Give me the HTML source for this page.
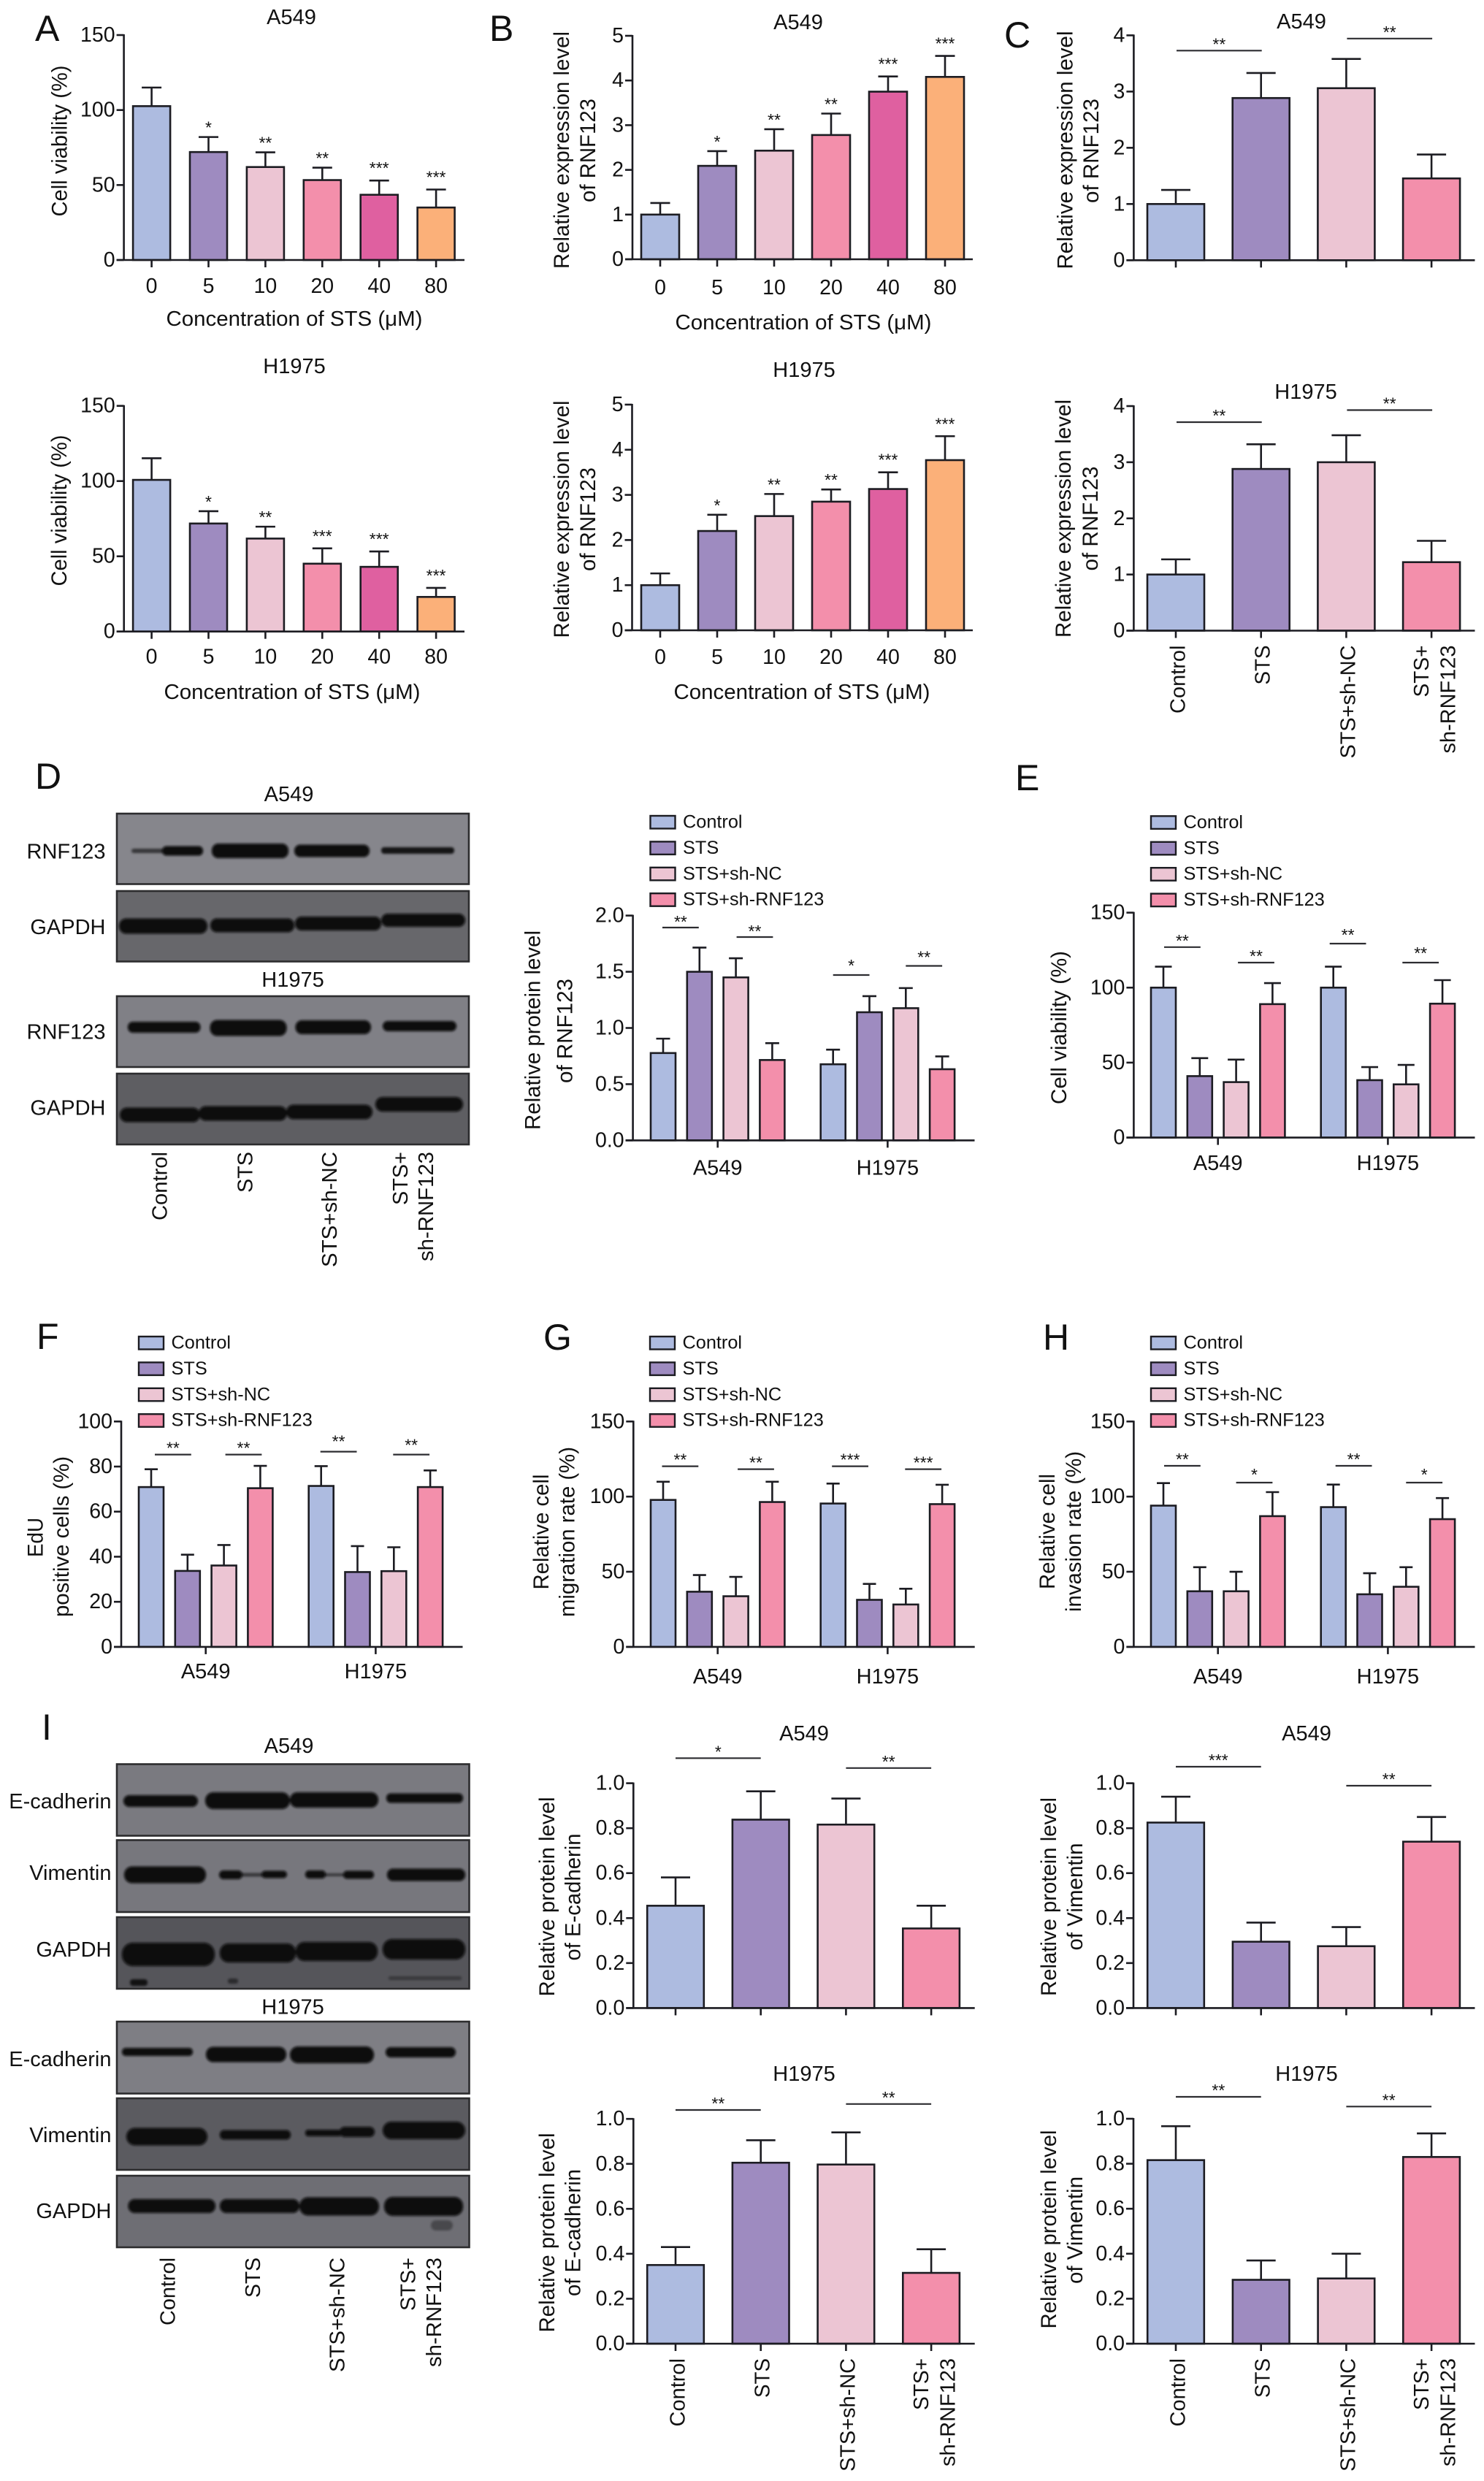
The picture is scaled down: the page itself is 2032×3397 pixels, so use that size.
<!DOCTYPE html>
<html lang="en">
<head>
<meta charset="utf-8">
<title>STS RNF123 multi-panel figure</title>
<style>
html,body{margin:0;padding:0;background:#fff;}
svg{display:block;}
text{font-family:"Liberation Sans",sans-serif;fill:#111;}
.letter{font-size:50px;}
.title{font-size:29px;text-anchor:middle;}
.yl{font-size:30px;text-anchor:middle;}
.xt{font-size:29px;text-anchor:middle;}
.bl{font-size:29px;text-anchor:end;}
.cl{font-size:29px;text-anchor:end;}
.frame{stroke:#2c2c2e;stroke-width:2.6;}
.band{fill:#070707;}
</style>
</head>
<body>
<svg id="figure" xmlns="http://www.w3.org/2000/svg" width="2032" height="3397" viewBox="0 0 2032 3397">
<defs>
<filter id="blotBlur" x="-10%" y="-60%" width="120%" height="220%"><feGaussianBlur stdDeviation="1.7"/></filter>
</defs>
<rect x="0" y="0" width="2032" height="3397" fill="#fff"/>

<!-- panel letters -->
<text class="letter" x="48" y="56">A</text>
<text class="letter" x="670" y="56">B</text>
<text class="letter" x="1375" y="65">C</text>
<text class="letter" x="48" y="1080">D</text>
<text class="letter" x="1390" y="1082">E</text>
<text class="letter" x="50" y="1847">F</text>
<text class="letter" x="744" y="1848">G</text>
<text class="letter" x="1428" y="1848">H</text>
<text class="letter" x="57" y="2382">I</text>

<!-- chart titles -->
<text class="title" x="399" y="33">A549</text>
<text class="title" x="403" y="511">H1975</text>
<text class="title" x="1093" y="40">A549</text>
<text class="title" x="1101" y="516">H1975</text>
<text class="title" x="1782" y="39">A549</text>
<text class="title" x="1788" y="546">H1975</text>
<text class="title" x="1101" y="2383">A549</text>
<text class="title" x="1101" y="2849">H1975</text>
<text class="title" x="1789" y="2383">A549</text>
<text class="title" x="1789" y="2849">H1975</text>

<!-- x axis titles -->
<text class="xt" x="403" y="446" textLength="351" lengthAdjust="spacingAndGlyphs">Concentration of STS (μM)</text>
<text class="xt" x="400" y="957" textLength="351" lengthAdjust="spacingAndGlyphs">Concentration of STS (μM)</text>
<text class="xt" x="1100" y="451" textLength="351" lengthAdjust="spacingAndGlyphs">Concentration of STS (μM)</text>
<text class="xt" x="1098" y="957" textLength="351" lengthAdjust="spacingAndGlyphs">Concentration of STS (μM)</text>

<!-- y axis titles -->
<text class="yl" transform="translate(91.5,193) rotate(-90)" textLength="207" lengthAdjust="spacingAndGlyphs">Cell viability (%)</text>
<text class="yl" transform="translate(91,699) rotate(-90)" textLength="207" lengthAdjust="spacingAndGlyphs">Cell viability (%)</text>
<text class="yl" transform="translate(779,205.5) rotate(-90)" textLength="325" lengthAdjust="spacingAndGlyphs">Relative expression level</text>
<text class="yl" transform="translate(815,206) rotate(-90)" textLength="142" lengthAdjust="spacingAndGlyphs">of RNF123</text>
<text class="yl" transform="translate(779,711) rotate(-90)" textLength="325" lengthAdjust="spacingAndGlyphs">Relative expression level</text>
<text class="yl" transform="translate(815,711) rotate(-90)" textLength="142" lengthAdjust="spacingAndGlyphs">of RNF123</text>
<text class="yl" transform="translate(1468.5,205.5) rotate(-90)" textLength="326" lengthAdjust="spacingAndGlyphs">Relative expression level</text>
<text class="yl" transform="translate(1504,206.5) rotate(-90)" textLength="143" lengthAdjust="spacingAndGlyphs">of RNF123</text>
<text class="yl" transform="translate(1466,710) rotate(-90)" textLength="326" lengthAdjust="spacingAndGlyphs">Relative expression level</text>
<text class="yl" transform="translate(1503,710) rotate(-90)" textLength="143" lengthAdjust="spacingAndGlyphs">of RNF123</text>
<text class="yl" transform="translate(739.5,1410.5) rotate(-90)" textLength="273" lengthAdjust="spacingAndGlyphs">Relative protein level</text>
<text class="yl" transform="translate(783.5,1411.5) rotate(-90)" textLength="143" lengthAdjust="spacingAndGlyphs">of RNF123</text>
<text class="yl" transform="translate(1460,1407) rotate(-90)" textLength="210" lengthAdjust="spacingAndGlyphs">Cell viability (%)</text>
<text class="yl" transform="translate(58.5,2105) rotate(-90)" textLength="54" lengthAdjust="spacingAndGlyphs">EdU</text>
<text class="yl" transform="translate(94,2104) rotate(-90)" textLength="220" lengthAdjust="spacingAndGlyphs">positive cells (%)</text>
<text class="yl" transform="translate(751,2097.5) rotate(-90)" textLength="158" lengthAdjust="spacingAndGlyphs">Relative cell</text>
<text class="yl" transform="translate(786.5,2097.5) rotate(-90)" textLength="233" lengthAdjust="spacingAndGlyphs">migration rate (%)</text>
<text class="yl" transform="translate(1444,2097) rotate(-90)" textLength="158" lengthAdjust="spacingAndGlyphs">Relative cell</text>
<text class="yl" transform="translate(1480,2097) rotate(-90)" textLength="220" lengthAdjust="spacingAndGlyphs">invasion rate (%)</text>
<text class="yl" transform="translate(759,2597) rotate(-90)" textLength="273" lengthAdjust="spacingAndGlyphs">Relative protein level</text>
<text class="yl" transform="translate(794.5,2597.5) rotate(-90)" textLength="174" lengthAdjust="spacingAndGlyphs">of E-cadherin</text>
<text class="yl" transform="translate(759,3057) rotate(-90)" textLength="273" lengthAdjust="spacingAndGlyphs">Relative protein level</text>
<text class="yl" transform="translate(794.5,3057) rotate(-90)" textLength="174" lengthAdjust="spacingAndGlyphs">of E-cadherin</text>
<text class="yl" transform="translate(1446,2597) rotate(-90)" textLength="272" lengthAdjust="spacingAndGlyphs">Relative protein level</text>
<text class="yl" transform="translate(1482,2597) rotate(-90)" textLength="147" lengthAdjust="spacingAndGlyphs">of Vimentin</text>
<text class="yl" transform="translate(1446,3052.5) rotate(-90)" textLength="272" lengthAdjust="spacingAndGlyphs">Relative protein level</text>
<text class="yl" transform="translate(1482,3053.5) rotate(-90)" textLength="147" lengthAdjust="spacingAndGlyphs">of Vimentin</text>

<!-- Western blots panel D -->
<g>
<text class="title" x="395.5" y="1097">A549</text>
<text class="title" x="401" y="1351">H1975</text>
<text class="bl" x="144.5" y="1175.5">RNF123</text>
<text class="bl" x="144.5" y="1279">GAPDH</text>
<text class="bl" x="144.5" y="1422.5">RNF123</text>
<text class="bl" x="144.5" y="1526.5">GAPDH</text>

<rect class="frame" x="160" y="1114" width="482" height="96.5" fill="#86868c"/>
<g filter="url(#blotBlur)">
<rect class="band" x="180" y="1162" width="50" height="6" rx="3" opacity=".6"/>
<rect class="band" x="222" y="1158.5" width="56" height="13" rx="6"/>
<rect class="band" x="290" y="1155" width="105" height="20" rx="9"/>
<rect class="band" x="403" y="1156.5" width="103" height="17" rx="8"/>
<rect class="band" x="522" y="1160" width="100" height="9" rx="4" opacity=".85"/>
</g>

<rect class="frame" x="160" y="1220" width="482" height="96.5" fill="#67676b"/>
<g filter="url(#blotBlur)">
<rect class="band" x="163" y="1257.5" width="121" height="21" rx="10"/>
<rect class="band" x="288" y="1257.5" width="115" height="19" rx="9"/>
<rect class="band" x="404" y="1255" width="118" height="19" rx="9"/>
<rect class="band" x="522" y="1251" width="115" height="18" rx="9"/>
</g>

<rect class="frame" x="160" y="1364" width="482" height="97" fill="#808086"/>
<g filter="url(#blotBlur)">
<rect class="band" x="175" y="1399" width="99.5" height="15" rx="7"/>
<rect class="band" x="287.5" y="1396.5" width="105" height="22" rx="10"/>
<rect class="band" x="404.5" y="1397" width="103.5" height="19" rx="9"/>
<rect class="band" x="524" y="1398" width="101" height="14" rx="7"/>
</g>

<rect class="frame" x="160" y="1470" width="482" height="97" fill="#5e5e62"/>
<g filter="url(#blotBlur)">
<rect class="band" x="164" y="1516.5" width="110" height="20" rx="10"/>
<rect class="band" x="272" y="1514.5" width="121" height="20" rx="10"/>
<rect class="band" x="392" y="1512.5" width="118" height="20" rx="10"/>
<rect class="band" x="514" y="1502" width="120" height="20" rx="10"/>
</g>

<text class="cl" transform="translate(228.5,1577) rotate(-90)" textLength="94" lengthAdjust="spacingAndGlyphs">Control</text>
<text class="cl" transform="translate(345.5,1577) rotate(-90)" textLength="56" lengthAdjust="spacingAndGlyphs">STS</text>
<text class="cl" transform="translate(461,1577) rotate(-90)" textLength="158" lengthAdjust="spacingAndGlyphs">STS+sh-NC</text>
<text class="cl" transform="translate(558,1577) rotate(-90)" textLength="73" lengthAdjust="spacingAndGlyphs">STS+</text>
<text class="cl" transform="translate(593,1577) rotate(-90)" textLength="150" lengthAdjust="spacingAndGlyphs">sh-RNF123</text>
</g>

<!-- Western blots panel I -->
<g>
<text class="title" x="395.5" y="2400">A549</text>
<text class="title" x="401" y="2757.5">H1975</text>
<text class="bl" x="152.5" y="2476">E-cadherin</text>
<text class="bl" x="152.5" y="2574">Vimentin</text>
<text class="bl" x="152.5" y="2679">GAPDH</text>
<text class="bl" x="152.5" y="2829">E-cadherin</text>
<text class="bl" x="152.5" y="2933">Vimentin</text>
<text class="bl" x="152.5" y="3037">GAPDH</text>

<rect class="frame" x="160" y="2415.5" width="482.5" height="98" fill="#7a7a80"/>
<g filter="url(#blotBlur)">
<rect class="band" x="169" y="2458" width="102" height="16" rx="8"/>
<rect class="band" x="281" y="2454" width="116" height="23" rx="11"/>
<rect class="band" x="397" y="2454" width="121" height="21" rx="10"/>
<rect class="band" x="529" y="2455.5" width="105" height="13" rx="6"/>
</g>

<rect class="frame" x="160" y="2519.5" width="482.5" height="98.5" fill="#77777d"/>
<g filter="url(#blotBlur)">
<rect class="band" x="170" y="2555.5" width="112" height="23" rx="11"/>
<rect class="band" x="300" y="2561" width="32" height="12" rx="6"/>
<rect class="band" x="328" y="2564.5" width="36" height="5" rx="2" opacity=".55"/>
<rect class="band" x="358" y="2561.5" width="35" height="10" rx="5"/>
<rect class="band" x="418" y="2561" width="28" height="11" rx="5"/>
<rect class="band" x="444" y="2565" width="28" height="4" rx="2" opacity=".55"/>
<rect class="band" x="470" y="2561.5" width="42" height="11" rx="5"/>
<rect class="band" x="530" y="2558.5" width="107" height="17" rx="8"/>
</g>

<rect class="frame" x="160" y="2625" width="482.5" height="98" fill="#55555a"/>
<g filter="url(#blotBlur)">
<rect class="band" x="167" y="2660" width="127" height="32" rx="15"/>
<rect class="band" x="301" y="2661" width="104" height="26" rx="12"/>
<rect class="band" x="405" y="2659" width="112" height="26" rx="12"/>
<rect class="band" x="524" y="2655" width="113" height="28" rx="13"/>
<rect class="band" x="178" y="2710" width="24" height="9" rx="4" opacity=".8"/>
<rect class="band" x="312" y="2709" width="14" height="7" rx="3" opacity=".5"/>
<rect class="band" x="532" y="2706" width="100" height="5" rx="2" opacity=".35"/>
</g>

<rect class="frame" x="160" y="2768" width="482.5" height="98.5" fill="#7e7e84"/>
<g filter="url(#blotBlur)">
<rect class="band" x="167" y="2804" width="97" height="11" rx="5"/>
<rect class="band" x="282" y="2802.5" width="110" height="21" rx="10"/>
<rect class="band" x="397" y="2802" width="115" height="23" rx="11"/>
<rect class="band" x="528" y="2803" width="96" height="14" rx="7"/>
</g>

<rect class="frame" x="160" y="2873" width="482.5" height="98" fill="#5b5b60"/>
<g filter="url(#blotBlur)">
<rect class="band" x="173" y="2913.5" width="111" height="24" rx="12"/>
<rect class="band" x="301" y="2916.5" width="97" height="13" rx="6"/>
<rect class="band" x="418" y="2916" width="50" height="9" rx="4"/>
<rect class="band" x="465" y="2912" width="48" height="14" rx="7"/>
<rect class="band" x="524" y="2905" width="113" height="24" rx="12"/>
</g>

<rect class="frame" x="160" y="2979" width="482.5" height="98" fill="#6e6e74"/>
<g filter="url(#blotBlur)">
<rect class="band" x="175.5" y="3011" width="119.5" height="19" rx="9"/>
<rect class="band" x="301" y="3011" width="109" height="19" rx="9"/>
<rect class="band" x="410" y="3008.5" width="109" height="25" rx="12"/>
<rect class="band" x="526" y="3008" width="108" height="26" rx="12"/>
<rect class="band" x="590" y="3040" width="30" height="14" rx="7" opacity=".35"/>
</g>

<text class="cl" transform="translate(239.5,3091) rotate(-90)" textLength="93" lengthAdjust="spacingAndGlyphs">Control</text>
<text class="cl" transform="translate(356,3091) rotate(-90)" textLength="55" lengthAdjust="spacingAndGlyphs">STS</text>
<text class="cl" transform="translate(471.5,3091) rotate(-90)" textLength="157" lengthAdjust="spacingAndGlyphs">STS+sh-NC</text>
<text class="cl" transform="translate(568.5,3091) rotate(-90)" textLength="73" lengthAdjust="spacingAndGlyphs">STS+</text>
<text class="cl" transform="translate(604,3091) rotate(-90)" textLength="150" lengthAdjust="spacingAndGlyphs">sh-RNF123</text>
</g>

<g id="chart-layer"></g>
</svg>

<script>
// ---------- category and tick labels ----------
const concentrationLabels = ['0', '5', '10', '20', '40', '80'];
const treatmentLabels = ['Control', 'STS', 'STS+sh-NC', 'STS+sh-RNF123'];
const cellLineLabels = ['A549', 'H1975'];
const viabilityTicks = ['0', '50', '100', '150'];
const expressionTicksTo5 = ['0', '1', '2', '3', '4', '5'];
const expressionTicksTo4 = ['0', '1', '2', '3', '4'];
const rnfProteinTicks = ['0.0', '0.5', '1.0', '1.5', '2.0'];
const eduTicks = ['0', '20', '40', '60', '80', '100'];
const proteinTicks = ['0.0', '0.2', '0.4', '0.6', '0.8', '1.0'];

// ---------- panel A ----------
const viabilityA549Means = [102.6, 72, 62, 53.3, 43.5, 35];
const viabilityA549Errors = [12.4, 10, 9.8, 8.3, 9.5, 12];
const viabilityA549Stars = ['', '*', '**', '**', '***', '***'];
const viabilityH1975Means = [100.8, 71.8, 61.8, 45.1, 43, 23];
const viabilityH1975Errors = [14.4, 8.2, 7.9, 10.2, 10.2, 6];
const viabilityH1975Stars = ['', '*', '**', '***', '***', '***'];

// ---------- panel B ----------
const expressionA549Means = [1, 2.09, 2.43, 2.78, 3.75, 4.08];
const expressionA549Errors = [0.26, 0.33, 0.48, 0.48, 0.34, 0.47];
const expressionA549Stars = ['', '*', '**', '**', '***', '***'];
const expressionH1975Means = [1, 2.2, 2.53, 2.85, 3.13, 3.77];
const expressionH1975Errors = [0.26, 0.36, 0.49, 0.27, 0.37, 0.53];
const expressionH1975Stars = ['', '*', '**', '**', '***', '***'];

// ---------- panel C ----------
const knockdownA549Means = [1, 2.885, 3.06, 1.455];
const knockdownA549Errors = [0.25, 0.445, 0.52, 0.425];
const knockdownH1975Means = [1, 2.88, 3, 1.22];
const knockdownH1975Errors = [0.27, 0.44, 0.48, 0.38];

// ---------- panel D ----------
const rnfProteinA549Means = [0.777, 1.5, 1.45, 0.715];
const rnfProteinA549Errors = [0.128, 0.215, 0.17, 0.15];
const rnfProteinH1975Means = [0.677, 1.14, 1.176, 0.633];
const rnfProteinH1975Errors = [0.13, 0.143, 0.179, 0.114];

// ---------- panel E ----------
const rescueViabilityA549Means = [100, 41, 37, 89];
const rescueViabilityA549Errors = [14, 12, 15, 14];
const rescueViabilityH1975Means = [100, 38.3, 35.5, 89.3];
const rescueViabilityH1975Errors = [14, 8.7, 13, 15.7];

// ---------- panel F ----------
const eduA549Means = [70.9, 33.7, 36.1, 70.4];
const eduA549Errors = [7.9, 7.2, 9.1, 9.9];
const eduH1975Means = [71.4, 33.2, 33.6, 70.9];
const eduH1975Errors = [8.8, 11.5, 10.6, 7.4];

// ---------- panel G ----------
const migrationA549Means = [97.8, 36.7, 33.7, 96.4];
const migrationA549Errors = [12.1, 11.1, 12.9, 13.5];
const migrationH1975Means = [95.4, 31.3, 28.2, 95];
const migrationH1975Errors = [13.3, 10.6, 10.5, 12.9];

// ---------- panel H ----------
const invasionA549Means = [94, 37, 37, 87];
const invasionA549Errors = [15, 16, 13, 16];
const invasionH1975Means = [93, 35, 40, 85];
const invasionH1975Errors = [15, 14, 13, 14];

// ---------- panel I ----------
const ecadA549Means = [0.455, 0.838, 0.816, 0.354];
const ecadA549Errors = [0.126, 0.126, 0.116, 0.101];
const ecadH1975Means = [0.35, 0.805, 0.797, 0.315];
const ecadH1975Errors = [0.08, 0.1, 0.143, 0.105];
const vimA549Means = [0.825, 0.295, 0.275, 0.74];
const vimA549Errors = [0.115, 0.085, 0.085, 0.11];
const vimH1975Means = [0.816, 0.284, 0.29, 0.83];
const vimH1975Errors = [0.151, 0.086, 0.11, 0.105];

// ---------- drawing ----------
const svgNS = 'http://www.w3.org/2000/svg';
const chartLayer = document.getElementById('chart-layer');
const palette = ['#adbbe0', '#9e8bc0', '#ecc5d3', '#f38fab', '#df60a0', '#fbb079'];
const lineColor = '#1c1c22';

function make(parent, tag, attrs, text) {
  const node = document.createElementNS(svgNS, tag);
  for (const key in attrs) node.setAttribute(key, attrs[key]);
  if (text !== undefined) node.textContent = text;
  parent.appendChild(node);
  return node;
}

function drawChart(cfg) {
  const g = make(chartLayer, 'g', {});
  
  

  const maxValue = parseFloat(cfg.ticks[cfg.ticks.length - 1]);
  const yScale = v => cfg.base - (v / maxValue) * (cfg.base - cfg.top);
  const groupSize = cfg.groupSize || cfg.means.length;
  const xScale = i => cfg.x0 + i * cfg.step + Math.floor(i / groupSize) * (cfg.groupGap || 0);
  const colorOf = i => palette[i % groupSize];

  // bars
  cfg.means.forEach((mean, i) => {
    const bar = make(g, 'rect', {
      x: xScale(i) - cfg.barWidth / 2,
      y: yScale(mean),
      width: cfg.barWidth,
      height: cfg.base - yScale(mean),
      fill: colorOf(i),
      stroke: lineColor,
      'stroke-width': 2.6
    });
    
    

    const stem = make(g, 'line', {
      x1: xScale(i), x2: xScale(i),
      y1: yScale(mean),
      y2: yScale(mean + cfg.errors[i]),
      stroke: lineColor, 'stroke-width': 2.6
    });
    
    

    const cap = make(g, 'line', {
      x1: xScale(i) - cfg.capWidth / 2, x2: xScale(i) + cfg.capWidth / 2,
      y1: yScale(mean + cfg.errors[i]),
      y2: yScale(mean + cfg.errors[i]),
      stroke: lineColor, 'stroke-width': 2.6
    });
    
    

    if (cfg.stars && cfg.stars[i]) {
      const lift = cfg.stars[i].length === 3 ? 22 : 18;
      const star = make(g, 'text', {
        x: xScale(i), y: yScale(mean + cfg.errors[i]) - lift + 13,
        'text-anchor': 'middle', 'font-size': 23
      }, cfg.stars[i]);
      
      
    }
  });

  // y axis
  const yAxis = make(g, 'line', {
    x1: cfg.axisX, x2: cfg.axisX, y1: cfg.top - 1, y2: cfg.base,
    stroke: lineColor, 'stroke-width': 2.6
  });
  
  

  cfg.ticks.forEach(label => {
    const value = parseFloat(label);
    const tick = make(g, 'line', {
      x1: cfg.axisX - 10, x2: cfg.axisX, y1: yScale(value), y2: yScale(value),
      stroke: lineColor, 'stroke-width': 2.6
    });
    
    

    const tickText = make(g, 'text', {
      x: cfg.axisX - 12, y: yScale(value) + 9,
      'text-anchor': 'end', 'font-size': 28.5
    }, label);
    
    
  });

  // x axis
  const xAxis = make(g, 'line', {
    x1: cfg.axisX - 10, x2: cfg.end, y1: cfg.base, y2: cfg.base,
    stroke: lineColor, 'stroke-width': 2.6
  });
  
  

  if (cfg.groupLabels) {
    cfg.groupLabels.forEach((label, k) => {
      const cx = xScale(k * groupSize) + (groupSize - 1) / 2 * cfg.step;
      const tick = make(g, 'line', {
        x1: cx, x2: cx, y1: cfg.base, y2: cfg.base + 10,
        stroke: lineColor, 'stroke-width': 2.6
      });
      
      

      const text = make(g, 'text', {
        x: cx, y: cfg.base + cfg.labelDy,
        'text-anchor': 'middle', 'font-size': 29
      }, label);
      
      
    });
  } else {
    cfg.means.forEach((mean, i) => {
      const tick = make(g, 'line', {
        x1: xScale(i), x2: xScale(i), y1: cfg.base, y2: cfg.base + 10,
        stroke: lineColor, 'stroke-width': 2.6
      });
      
      

      if (cfg.categories) {
        const text = make(g, 'text', {
          x: xScale(i), y: cfg.base + cfg.labelDy,
          'text-anchor': 'middle', 'font-size': 28.5
        }, cfg.categories[i]);
        
        
      }
    });
  }

  // rotated treatment labels
  if (cfg.rotated) {
    const spec = [
      { dx: 12.4, len: 93.5, text: treatmentLabels[0] },
      { dx: 12, len: 54, text: treatmentLabels[1] },
      { dx: 12, len: 155, text: treatmentLabels[2] }
    ];
    spec.forEach((s, i) => {
      const text = make(g, 'text', {
        transform: 'translate(' + (xScale(i) + s.dx) + ',' + (cfg.base + 20) + ') rotate(-90)',
        'text-anchor': 'end', 'font-size': 29,
        textLength: s.len, lengthAdjust: 'spacingAndGlyphs'
      }, s.text);
      
      
    });
    const last = make(g, 'text', {
      transform: 'translate(' + (xScale(3) - 4) + ',' + (cfg.base + 20) + ') rotate(-90)',
      'text-anchor': 'end', 'font-size': 29,
      textLength: 71, lengthAdjust: 'spacingAndGlyphs'
    }, 'STS+');
    
    
    const last2 = make(g, 'text', {
      transform: 'translate(' + (xScale(3) + 32.5) + ',' + (cfg.base + 20) + ') rotate(-90)',
      'text-anchor': 'end', 'font-size': 29,
      textLength: 148, lengthAdjust: 'spacingAndGlyphs'
    }, 'sh-RNF123');
    
    
  }

  // significance brackets
  (cfg.brackets || []).forEach((b, k) => {
    const dx = b.dx || 0;
    const line = make(g, 'line', {
      x1: xScale(b.from) + dx, x2: xScale(b.to) + dx, y1: b.y, y2: b.y,
      stroke: '#2c2c30', 'stroke-width': 2.2
    });
    
    

    const label = make(g, 'text', {
      x: (xScale(b.from) + xScale(b.to)) / 2 + dx,
      y: b.y - (b.dy || 14) + 13,
      'text-anchor': 'middle', 'font-size': 23
    }, b.stars);
    
    
  });

  // legend
  if (cfg.legend) {
    treatmentLabels.forEach((label, i) => {
      const top = cfg.legend.top + i * 35.4;
      const swatch = make(g, 'rect', {
        x: cfg.legend.x, y: top, width: 34, height: 17.5,
        fill: palette[i], stroke: lineColor, 'stroke-width': 2.4
      });
      
      

      const text = make(g, 'text', {
        x: cfg.legend.x + 44.5, y: top + 16.5,
        'font-size': 25.3
      }, label);
      
      
    });
  }
}

// panel A
drawChart({ id: 'a-a549', axisX: 169.6, top: 48, base: 356, end: 636, ticks: viabilityTicks,
  x0: 207.6, step: 77.9, barWidth: 51, capWidth: 27, labelDy: 45,
  means: viabilityA549Means, errors: viabilityA549Errors, stars: viabilityA549Stars, categories: concentrationLabels });
drawChart({ id: 'a-h1975', axisX: 169.7, top: 555.7, base: 864.7, end: 636, ticks: viabilityTicks,
  x0: 207.6, step: 77.9, barWidth: 51, capWidth: 27, labelDy: 44,
  means: viabilityH1975Means, errors: viabilityH1975Errors, stars: viabilityH1975Stars, categories: concentrationLabels });

// panel B
drawChart({ id: 'b-a549', axisX: 866, top: 49, base: 355, end: 1332, ticks: expressionTicksTo5,
  x0: 904, step: 78, barWidth: 52, capWidth: 27, labelDy: 48,
  means: expressionA549Means, errors: expressionA549Errors, stars: expressionA549Stars, categories: concentrationLabels });
drawChart({ id: 'b-h1975', axisX: 865.5, top: 554, base: 863, end: 1332, ticks: expressionTicksTo5,
  x0: 904, step: 78, barWidth: 52, capWidth: 27, labelDy: 46,
  means: expressionH1975Means, errors: expressionH1975Errors, stars: expressionH1975Stars, categories: concentrationLabels });

// panel C
drawChart({ id: 'c-a549', axisX: 1552.4, top: 48.4, base: 356.3, end: 2019.5, ticks: expressionTicksTo4,
  x0: 1610, step: 116.7, barWidth: 78, capWidth: 40,
  means: knockdownA549Means, errors: knockdownA549Errors,
  brackets: [{ from: 0, to: 1, y: 69.3, stars: '**', dx: 1 }, { from: 2, to: 3, y: 52.8, stars: '**', dx: 1 }] });
drawChart({ id: 'c-h1975', axisX: 1552.4, top: 556, base: 863.5, end: 2019.5, ticks: expressionTicksTo4,
  x0: 1610, step: 116.7, barWidth: 78, capWidth: 40, rotated: true,
  means: knockdownH1975Means, errors: knockdownH1975Errors,
  brackets: [{ from: 0, to: 1, y: 578, stars: '**', dx: 1 }, { from: 2, to: 3, y: 561.5, stars: '**', dx: 1 }] });

// panel D
drawChart({ id: 'd', axisX: 866.6, top: 1253.6, base: 1561.4, end: 1334.5, ticks: rnfProteinTicks,
  x0: 908, step: 49.8, groupSize: 4, groupGap: 33.5, barWidth: 34, capWidth: 19, labelDy: 47,
  means: rnfProteinA549Means.concat(rnfProteinH1975Means), errors: rnfProteinA549Errors.concat(rnfProteinH1975Errors),
  groupLabels: cellLineLabels, legend: { x: 890.5, top: 1117 },
  brackets: [
    { from: 0, to: 1, y: 1270, stars: '**', dx: -1, dy: 13 },
    { from: 2, to: 3, y: 1283, stars: '**', dx: 1, dy: 13 },
    { from: 4, to: 5, y: 1335, stars: '*', dy: 18 },
    { from: 6, to: 7, y: 1322.5, stars: '**', dy: 17 }
  ] });

// panel E
drawChart({ id: 'e', axisX: 1552.4, top: 1249.6, base: 1557.6, end: 2019.5, ticks: viabilityTicks,
  x0: 1593, step: 49.8, groupSize: 4, groupGap: 33.5, barWidth: 34, capWidth: 23, labelDy: 44.5,
  means: rescueViabilityA549Means.concat(rescueViabilityH1975Means), errors: rescueViabilityA549Errors.concat(rescueViabilityH1975Errors),
  groupLabels: cellLineLabels, legend: { x: 1576, top: 1117.4 },
  brackets: [
    { from: 0, to: 1, y: 1296.8, stars: '**', dx: 1 },
    { from: 2, to: 3, y: 1318, stars: '**', dx: 2.5 },
    { from: 4, to: 5, y: 1292, stars: '**', dx: -5, dy: 17 },
    { from: 6, to: 7, y: 1318, stars: '**', dx: -5, dy: 18 }
  ] });

// panel F
drawChart({ id: 'f', axisX: 166, top: 1946.3, base: 2254.9, end: 633.5, ticks: eduTicks,
  x0: 207, step: 49.8, groupSize: 4, groupGap: 33.5, barWidth: 34, capWidth: 18, labelDy: 43,
  means: eduA549Means.concat(eduH1975Means), errors: eduA549Errors.concat(eduH1975Errors),
  groupLabels: cellLineLabels, legend: { x: 190, top: 1830 },
  brackets: [
    { from: 0, to: 1, y: 1991.6, stars: '**', dx: 5 },
    { from: 2, to: 3, y: 1991.6, stars: '**', dx: 2 },
    { from: 4, to: 5, y: 1987.6, stars: '**', dx: -1, dy: 19 },
    { from: 6, to: 7, y: 1991.6, stars: '**', dx: -1, dy: 18 }
  ] });

// panel G
drawChart({ id: 'g', axisX: 867.3, top: 1946.3, base: 2254.9, end: 1334.7, ticks: viabilityTicks,
  x0: 908, step: 49.8, groupSize: 4, groupGap: 33.5, barWidth: 34, capWidth: 18, labelDy: 50,
  means: migrationA549Means.concat(migrationH1975Means), errors: migrationA549Errors.concat(migrationH1975Errors),
  groupLabels: cellLineLabels, legend: { x: 890, top: 1830 },
  brackets: [
    { from: 0, to: 1, y: 2007.6, stars: '**', dx: -1.5 },
    { from: 2, to: 3, y: 2011.6, stars: '**', dx: 2.5 },
    { from: 4, to: 5, y: 2007.6, stars: '***', dx: -1.5 },
    { from: 6, to: 7, y: 2011.6, stars: '***', dx: -1 }
  ] });

// panel H
drawChart({ id: 'h', axisX: 1552.4, top: 1946.3, base: 2254.9, end: 2019.5, ticks: viabilityTicks,
  x0: 1593, step: 49.8, groupSize: 4, groupGap: 33.5, barWidth: 34, capWidth: 18, labelDy: 50,
  means: invasionA549Means.concat(invasionH1975Means), errors: invasionA549Errors.concat(invasionH1975Errors),
  groupLabels: cellLineLabels, legend: { x: 1576, top: 1830 },
  brackets: [
    { from: 0, to: 1, y: 2007, stars: '**', dx: 1 },
    { from: 2, to: 3, y: 2030, stars: '*', dy: 16 },
    { from: 4, to: 5, y: 2007, stars: '**', dx: 3 },
    { from: 6, to: 7, y: 2030, stars: '*', dy: 16 }
  ] });

// panel I
drawChart({ id: 'i-ecad-a549', axisX: 867.3, top: 2441.6, base: 2749.4, end: 1334.7, ticks: proteinTicks,
  x0: 925, step: 116.7, barWidth: 77.6, capWidth: 40,
  means: ecadA549Means, errors: ecadA549Errors,
  brackets: [{ from: 0, to: 1, y: 2407.3, stars: '*' }, { from: 2, to: 3, y: 2420.8, stars: '**' }] });
drawChart({ id: 'i-ecad-h1975', axisX: 867.3, top: 2901.2, base: 3209, end: 1334.7, ticks: proteinTicks,
  x0: 925, step: 116.7, barWidth: 77.6, capWidth: 40, rotated: true,
  means: ecadH1975Means, errors: ecadH1975Errors,
  brackets: [{ from: 0, to: 1, y: 2889, stars: '**' }, { from: 2, to: 3, y: 2880.8, stars: '**' }] });
drawChart({ id: 'i-vim-a549', axisX: 1552, top: 2441.6, base: 2749.4, end: 2019.5, ticks: proteinTicks,
  x0: 1610, step: 116.7, barWidth: 77.6, capWidth: 40,
  means: vimA549Means, errors: vimA549Errors,
  brackets: [{ from: 0, to: 1, y: 2419, stars: '***' }, { from: 2, to: 3, y: 2445, stars: '**' }] });
drawChart({ id: 'i-vim-h1975', axisX: 1552, top: 2901, base: 3209, end: 2019.5, ticks: proteinTicks,
  x0: 1610, step: 116.7, barWidth: 77.6, capWidth: 40, rotated: true,
  means: vimH1975Means, errors: vimH1975Errors,
  brackets: [{ from: 0, to: 1, y: 2871, stars: '**' }, { from: 2, to: 3, y: 2884.3, stars: '**' }] });
</script>
</body>
</html>
